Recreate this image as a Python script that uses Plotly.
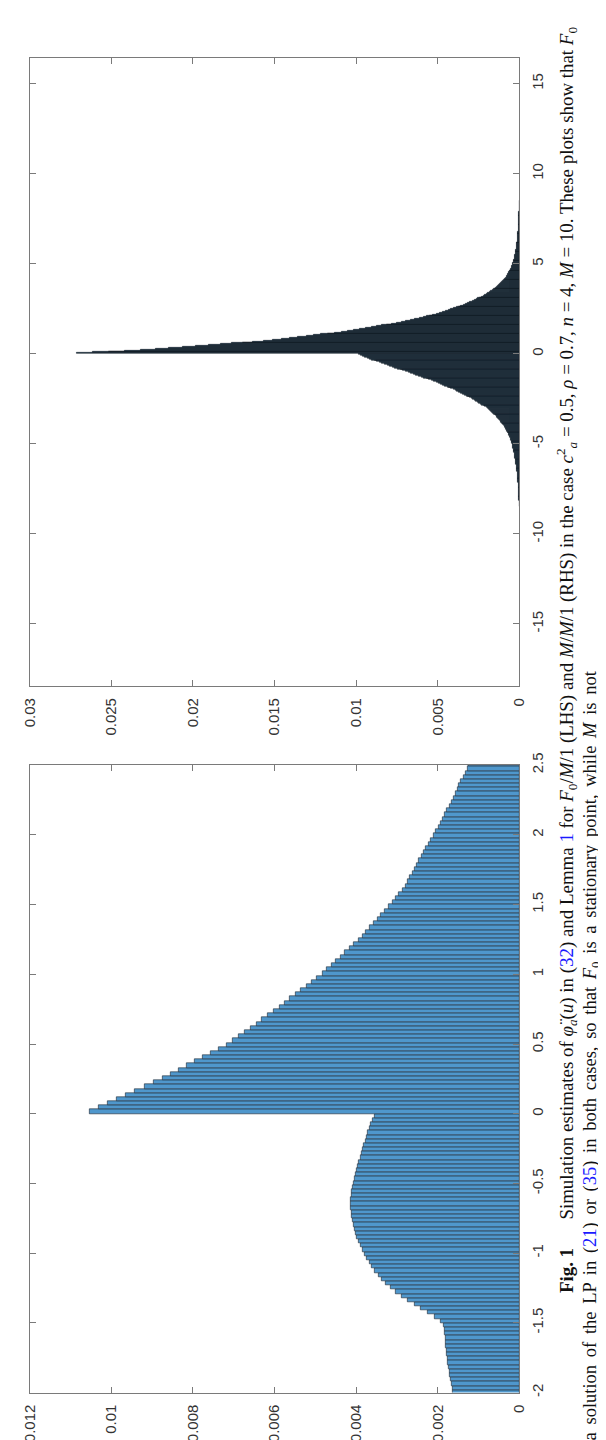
import plotly.graph_objects as go

# ---------------- data ----------------
# LHS: F0/M/1, bin width 0.03
LHS_U0 = -1.995
LHS_W = 0.03
lhs_vals_e5 = [
    # u < 0  (-1.995 ... -0.015)
    163, 164, 166, 168, 170, 172, 174, 175, 177, 178,
    179, 180, 181, 182, 183, 184, 185, 192, 207, 224,
    241, 258, 274, 289, 303, 316, 327, 337, 346, 354,
    361, 368, 374, 380, 385, 390, 394, 398, 401, 404,
    407, 409, 411, 412, 413, 413, 413, 412, 411, 409,
    407, 405, 402, 399, 396, 393, 390, 387, 384, 381,
    378, 375, 371, 368, 364, 360, 355,
    # u > 0  (0.015 ... 2.505)
    1052, 1030, 1008, 986, 964, 942, 919, 897, 875, 854,
    834, 815, 795, 776, 756, 737, 717, 702, 688, 673,
    659, 645, 631, 616, 602, 588, 575, 562, 549, 535,
    522, 509, 496, 483, 472, 461, 450, 439, 428, 417,
    406, 395, 385, 376, 367, 358, 348, 339, 330, 321,
    312, 304, 296, 287, 280, 274, 268, 263, 257, 251,
    246, 240, 234, 229, 223, 217, 211, 205, 199, 194,
    188, 183, 178, 172, 167, 162, 157, 152, 148, 143,
    138, 133, 128, 124,
]

# RHS: M/M/1, bin width 0.05
RHS_W = 0.05
# u < 0, listed outward from u = -0.025 down to u = -8.475
rhs_neg_out_e5 = [
    988, 974, 960, 946, 932, 918, 903, 888, 873, 858,
    842, 826, 810, 794, 778, 762, 746, 730, 714, 698,
    682, 666, 650, 634, 618, 602, 586, 570, 554, 538,
    523, 510, 496, 482, 469, 456, 443, 431, 419, 406,
    394, 383, 371, 359, 348, 337, 326, 316, 306, 295,
    285, 276, 267, 257, 248, 239, 230, 222, 213, 204,
    197, 190, 184, 178, 171, 165, 160, 154, 148, 143,
    138, 133, 128, 123, 118, 114, 110, 106, 101, 97,
    93, 90, 87, 84, 81, 78, 75, 72, 69, 66,
    64, 62, 60, 57, 55, 53, 51, 50, 48, 46,
    44, 43, 42, 40, 39, 37, 36, 35, 34, 33,
    32, 31, 30, 29, 28, 27, 26, 25, 24, 23,
    23, 22, 21, 20, 19, 19, 18, 17, 16, 15,
    15, 14, 14, 13, 13, 12, 12, 11, 11, 10,
    10, 9, 9, 8, 8, 8, 7, 7, 6, 6,
    6, 5, 5, 5, 4.5, 4, 4, 4, 3, 3,
    3, 2.5, 2.5, 2, 2, 2, 1.5, 1.5, 1, 1,
]
# u > 0, listed outward from u = 0.025 up to u = 8.475
rhs_pos_out_e5 = [
    2711, 2613, 2515, 2417, 2319, 2229, 2147, 2065, 1983, 1901,
    1828, 1763, 1698, 1633, 1568, 1510, 1459, 1408, 1357, 1306,
    1259, 1217, 1175, 1133, 1091, 1052, 1016, 980, 944, 908,
    875, 844, 813, 782, 751, 722, 695, 668, 641, 614,
    590, 570, 550, 530, 510, 491, 473, 455, 437, 419,
    403, 388, 373, 358, 343, 329, 316, 303, 290, 277,
    265, 254, 243, 232, 221, 211, 202, 193, 184, 175,
    167, 160, 153, 146, 139, 132, 126, 120, 114, 108,
    103, 98, 94, 89, 84, 80, 77, 74, 70, 67,
    64, 61, 58, 55, 52, 50, 48, 46, 43, 41,
    39, 38, 37, 35, 34, 32, 31, 30, 28, 27,
    26, 25, 24, 23, 22, 21, 20, 19, 18, 17,
    17, 16, 16, 15, 14, 14, 13, 13, 12, 11,
    11, 10, 10, 9, 9, 9, 8, 8, 7, 7,
    7, 6.5, 6, 6, 5.5, 5, 5, 5, 4, 4,
    4, 4, 3.5, 3, 3, 3, 3, 2.5, 2, 2,
    2, 2, 2, 1.5, 1.5, 1.5, 1, 1, 1, 1,
]

rhs_val_ticks = [0, 0.005, 0.01, 0.015, 0.02, 0.025, 0.03]
rhs_val_labels = ["0", "0.005", "0.01", "0.015", "0.02", "0.025", "0.03"]
rhs_u_ticks = [-15, -10, -5, 0, 5, 10, 15]
rhs_u_labels = ["-15", "-10", "-5", "0", "5", "10", "15"]

lhs_val_ticks = [0, 0.002, 0.004, 0.006, 0.008, 0.01, 0.012]
lhs_val_labels = ["0", "0.002", "0.004", "0.006", "0.008", "0.01", "0.012"]
lhs_u_ticks = [-2, -1.5, -1, -0.5, 0, 0.5, 1, 1.5, 2, 2.5]
lhs_u_labels = ["-2", "-1.5", "-1", "-0.5", "0", "0.5", "1", "1.5", "2", "2.5"]

# ---------------- build ----------------
lhs_vals = [v * 1e-5 for v in lhs_vals_e5]
lhs_u = [round(LHS_U0 + LHS_W * i, 4) for i in range(len(lhs_vals))]

rhs_u = ([round(-RHS_W / 2 - RHS_W * i, 4) for i in range(len(rhs_neg_out_e5))]
         + [round(RHS_W / 2 + RHS_W * i, 4) for i in range(len(rhs_pos_out_e5))])
rhs_vals = [v * 1e-5 for v in rhs_neg_out_e5 + rhs_pos_out_e5]

W, H = 606, 1440
AX = "#7a7a7a"
TXT = "#333333"
TICKFONT = dict(family="Liberation Sans, Arial, sans-serif", size=15, color=TXT)

fig = go.Figure()
fig.add_trace(go.Bar(
    y=rhs_u, x=rhs_vals, orientation="h", width=RHS_W,
    marker=dict(color="#223f56", line=dict(color="#0c1319", width=0.5)),
    xaxis="x", yaxis="y", showlegend=False, hoverinfo="skip"))
fig.add_trace(go.Bar(
    y=lhs_u, x=lhs_vals, orientation="h", width=LHS_W,
    marker=dict(color="#4f97cc", line=dict(color="#1b242c", width=0.6)),
    xaxis="x2", yaxis="y2", showlegend=False, hoverinfo="skip"))

def px_x(a, b):
    return [a / W, b / W]

def px_y(top, bottom):
    return [1 - bottom / H, 1 - top / H]

common = dict(showline=True, linecolor=AX, linewidth=1, mirror="ticks",
              ticks="inside", ticklen=6, tickcolor=AX, tickwidth=1,
              showgrid=False, zeroline=False, tickfont=TICKFONT,
              tickangle=-90, ticklabelstandoff=5)

fig.update_layout(
    width=W, height=H,
    margin=dict(l=0, r=0, t=0, b=0),
    paper_bgcolor="white", plot_bgcolor="white",
    bargap=0, barmode="overlay",
    xaxis=dict(domain=px_x(13, 517), anchor="y", range=[0.03, 0],
               tickvals=rhs_val_ticks, ticktext=rhs_val_labels, side="bottom", **common),
    yaxis=dict(domain=px_y(37, 673), anchor="x", range=[-18.45, 16.45],
               tickvals=rhs_u_ticks, ticktext=rhs_u_labels, side="right", **common),
    xaxis2=dict(domain=px_x(13, 517), anchor="y2", range=[0.012, 0],
                tickvals=lhs_val_ticks, ticktext=lhs_val_labels, side="bottom", **common),
    yaxis2=dict(domain=px_y(753, 1388), anchor="x2", range=[-2, 2.5],
                tickvals=lhs_u_ticks, ticktext=lhs_u_labels, side="right", **common),
)

blue = lambda s: f"<span style='color:#1a1aff'>{s}</span>"
line1 = ("<b>Fig. 1</b>\u2003\u2002Simulation estimates of <i>φ̈<sub>a</sub></i>(<i>u</i>) in ("
         + blue("32") + ") and Lemma " + blue("1")
         + " for <i>F</i><sub>0</sub>/<i>M</i>/1 (LHS) and <i>M</i>/<i>M</i>/1 (RHS) in the case "
         "<i>c</i><sup>2</sup><sub><i>a</i></sub> = 0.5, <i>ρ</i> = 0.7, <i>n</i> = 4, <i>M</i> = 10. "
         "These plots show that <i>F</i><sub>0</sub>")
line2 = ("a solution of the LP in (" + blue("21") + ") or (" + blue("35")
         + ") in both cases, so that <i>F</i><sub>0</sub> is a stationary point, while <i>M</i> is not")
line2 = line2.replace(" ", " \u2006").replace("<span \u2006style", "<span style")
CAPFONT1 = dict(family="Liberation Serif, Times New Roman, serif", size=18.9, color="#111111")
CAPFONT2 = dict(family="Liberation Serif, Times New Roman, serif", size=18.5, color="#111111")
fig.add_annotation(text=line1, textangle=-90, xref="paper", yref="paper",
                   x=566 / W, y=1 - 4 / H, xanchor="center", yanchor="top",
                   showarrow=False, font=CAPFONT1)
fig.add_annotation(text=line2, textangle=-90, xref="paper", yref="paper",
                   x=591 / W, y=1 - 1438 / H, xanchor="center", yanchor="bottom",
                   showarrow=False, font=CAPFONT2)

fig.write_html("out.html")
